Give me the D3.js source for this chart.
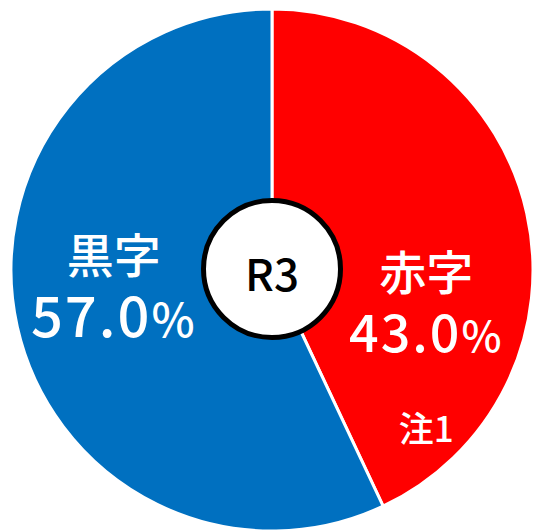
<!DOCTYPE html>
<html>
<head>
<meta charset="utf-8">
<script src="https://cdn.jsdelivr.net/npm/d3@7"></script>
<style>
  body { margin: 0; background: #fff; }
  text { font-family: "Noto Sans CJK JP", "Noto Sans", sans-serif; }
</style>
</head>
<body>
<div id="container"></div>
<script>
/* DATA */
const categories = ["赤字", "黒字"];
const shares = [43.0, 57.0];
const notes = ["注1", ""];
const yearLabel = "R3";

/* CONSTANTS */
const width = 534;
const height = 532;
const cx = 272, cy = 270;
const radius = 261;
const colors = d3.scaleOrdinal().domain(categories).range(["#ff0000", "#0070c0"]);

// per-slice label tweaks (red, blue)
const labelDx = [4, -8];
const nameY = [20, 3];
const pctY = [82, 67];
const pctSize = [52, 56];

const data = categories.map((c, i) => ({ cat: c, value: shares[i], note: notes[i] }));

const svg = d3.select("#container")
    .append("svg")
    .attr("width", width)
    .attr("height", height);

const g = svg.append("g").attr("transform", `translate(${cx},${cy})`);

const pie = d3.pie().sort(null).value(d => d.value);
const arc = d3.arc().innerRadius(0).outerRadius(radius);
const labelArc = d3.arc().innerRadius(154).outerRadius(154);

const arcs = pie(data);

// slices
g.selectAll("path.slice")
    .data(arcs)
    .join("path")
    .attr("class", "slice")
    .attr("d", arc)
    .attr("fill", d => colors(d.data.cat))
    .attr("stroke", "#fff")
    .attr("stroke-width", 3)
    .attr("stroke-linejoin", "round");

// labels
const lab = g.selectAll("g.label")
    .data(arcs)
    .join("g")
    .attr("class", "label")
    .attr("transform", d => `translate(${labelArc.centroid(d)[0] + labelDx[d.index]},0)`);

lab.append("text")
    .attr("text-anchor", "middle")
    .attr("y", d => nameY[d.index])
    .attr("fill", "#fff")
    .style("font-size", "47px")
    .style("font-weight", 500)
    .text(d => d.data.cat);

const pct = lab.append("text")
    .attr("text-anchor", "middle")
    .attr("y", d => pctY[d.index])
    .attr("fill", "#fff")
    .style("font-size", d => pctSize[d.index] + "px")
    .style("font-weight", 500)
    .style("letter-spacing", "2px");
pct.append("tspan").text(d => d.value.toFixed(1));
pct.append("tspan").style("font-size", "0.82em").text("%");

lab.append("text")
    .attr("text-anchor", "middle")
    .attr("y", 172)
    .attr("fill", "#fff")
    .style("font-size", "35px")
    .style("font-weight", 500)
    .text(d => d.data.note);

// center badge
g.append("circle")
    .attr("cx", 0)
    .attr("cy", -1)
    .attr("r", 68.5)
    .attr("fill", "#fff")
    .attr("stroke", "#000")
    .attr("stroke-width", 5);

g.append("text")
    .attr("text-anchor", "middle")
    .attr("y", 21)
    .attr("fill", "#000")
    .style("font-size", "44px")
    .style("font-weight", 500)
    .text(yearLabel);
</script>
</body>
</html>
